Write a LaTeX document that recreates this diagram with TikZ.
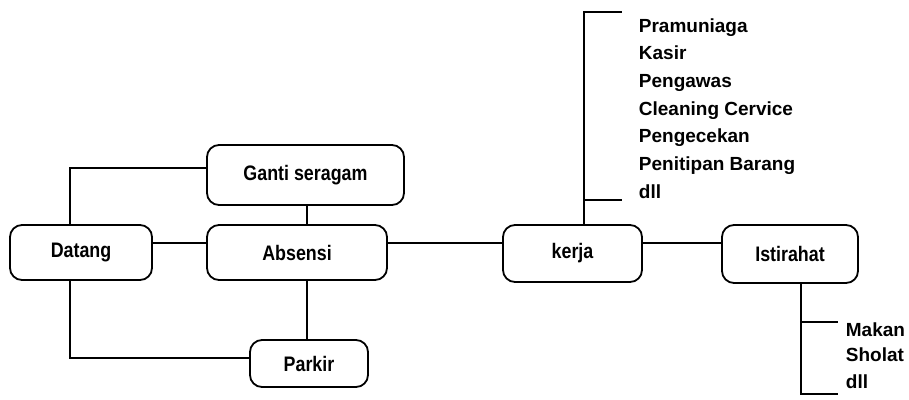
\documentclass[tikz,border=0pt]{standalone}
\usepackage{fontspec}
\setmainfont{Liberation Sans}
\newfontfamily\boxfont[FakeStretch=0.85]{Liberation Sans Bold}
\newfontfamily\listfont{Liberation Sans Bold}
\begin{document}
\begin{tikzpicture}[x=1pt,y=-1pt,
  line width=1.8pt,
  stepbox/.style={draw, rounded corners=12pt, inner sep=0pt,
    font=\boxfont\fontsize{21}{21}\selectfont},
  joblist/.style={anchor=base west, inner sep=0pt,
    font=\listfont\fontsize{19}{19}\selectfont}]
\useasboundingbox (0,0) rectangle (909,399);

% process steps
\node[stepbox, minimum width=197pt, minimum height=60pt] (ganti)     at (305.5,175)   {Ganti seragam};
\node[stepbox, minimum width=142pt, minimum height=55pt] (datang)    at (81,252.5)    {Datang};
\node[stepbox, minimum width=180pt, minimum height=55pt] (absensi)   at (297,252.5)   {Absensi};
\node[stepbox, minimum width=118pt, minimum height=47pt] (parkir)    at (309,363.5)   {Parkir};
\node[stepbox, minimum width=139pt, minimum height=57pt] (kerja)     at (572.5,253.5) {kerja};
\node[stepbox, minimum width=136pt, minimum height=58pt] (istirahat) at (790,254)     {Istirahat};

% helper coordinates for the connector routes
\coordinate (row) at (0,243);
\coordinate (gy)  at (0,168);
\coordinate (py)  at (0,358);
\coordinate (cx)  at (307,0);
\coordinate (kx)  at (584,0);
\coordinate (ktop) at (584,12);
\coordinate (ktopend) at (622,12);
\coordinate (kbot) at (584,200);
\coordinate (kbotend) at (622,200);
\coordinate (ix)  at (801,0);
\coordinate (itop) at (801,322);
\coordinate (itopend) at (838,322);
\coordinate (ibot) at (801,394);
\coordinate (ibotend) at (838,394);

% main flow
\draw (datang.east |- row) -- (absensi.west |- row);
\draw (absensi.east |- row) -- (kerja.west |- row);
\draw (kerja.east |- row) -- (istirahat.west |- row);

% side branches
\draw ([xshift=-11pt]datang.north) |- (ganti.west |- gy);
\draw ([xshift=-11pt]datang.south) |- (parkir.west |- py);
\draw (cx |- ganti.south) -- (cx |- absensi.north);
\draw (cx |- absensi.south) -- (cx |- parkir.north);

% job bracket
\draw (kx |- kerja.north) -- (ktop) -- (ktopend);
\draw (kbot) -- (kbotend);

% break bracket
\draw (ix |- istirahat.south) -- (ibot) -- (ibotend);
\draw (itop) -- (itopend);

% job list
\node[joblist] (j1) at (638,32)    {Pramuniaga};
\node[joblist] (j2) at (638,59.7)  {Kasir};
\node[joblist] (j3) at (638,87.4)  {Pengawas};
\node[joblist] (j4) at (638,115.1) {Cleaning Cervice};
\node[joblist] (j5) at (638,142.8) {Pengecekan};
\node[joblist] (j6) at (638,170.5) {Penitipan Barang};
\node[joblist] (j7) at (638,198.2) {dll};

% break activities
\node[joblist] (r1) at (845,336) {Makan};
\node[joblist] (r2) at (845,361) {Sholat};
\node[joblist] (r3) at (845,388) {dll};
\end{tikzpicture}
\end{document}
